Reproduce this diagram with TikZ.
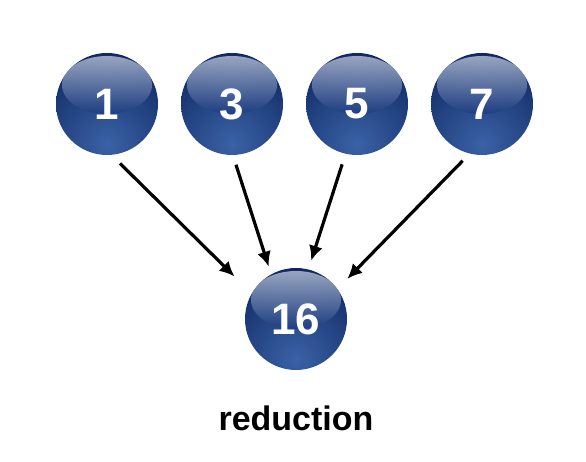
\documentclass[tikz,border=0pt]{standalone}
\usepackage{fontspec}
\setmainfont{Liberation Sans}
\usetikzlibrary{arrows.meta,positioning}
\definecolor{balldark}{RGB}{14,38,96}
\definecolor{ballmid}{RGB}{26,58,126}
\definecolor{balllight}{RGB}{58,98,166}

\tikzset{
  ball/.style={circle, minimum size=102pt, inner sep=0pt, text=white,
    font=\fontsize{44}{44}\selectfont\bfseries,
    path picture={
      \shade[inner color=balllight, outer color=balldark]
        ([yshift=-40pt]path picture bounding box.center) circle (95pt);
      \shade[top color=white!70!ballmid, bottom color=ballmid, opacity=0.8]
        ([yshift=19pt]path picture bounding box.center) ellipse (45pt and 29pt);
    }},
  flow/.style={-{Latex[length=15pt,width=14pt]}, line width=3.2pt, black}
}

\begin{document}
\begin{tikzpicture}[x=1pt,y=1pt,node distance=125pt,on grid]
\useasboundingbox (0,0) rectangle (586,462);

\node[ball] (x1) at (107,358) {1};
\node[ball] (x3) [right=of x1] {3};
\node[ball] (x5) [right=of x3] {5};
\node[ball] (x7) [right=of x5] {7};
\node[ball] (x16) at (296,143) {16};

\node[font=\fontsize{34}{34}\selectfont\bfseries] (lbl) [below=99pt of x16] {reduction};

\path[flow]
    (x1.-85)	edge [shorten <=12pt, shorten >=24pt] (x16.150)
    (x3.-89)	edge [shorten <=10pt, shorten >=8pt] (x16.119)
    (x5.-103)	edge [shorten <=11pt, shorten >=9pt] (x16.76)
    (x7.-104)	edge [shorten <=10pt, shorten >=14pt] (x16.36);
\end{tikzpicture}
\end{document}
